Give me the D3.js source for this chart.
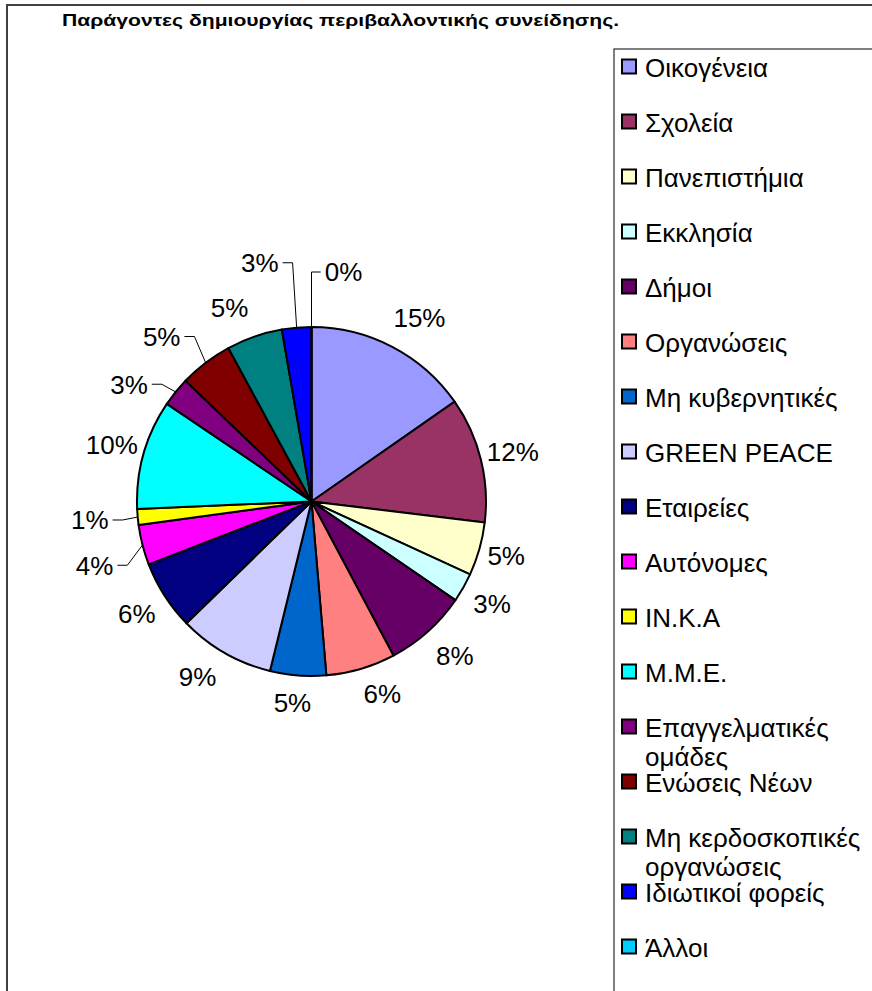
<!DOCTYPE html>
<html><head><meta charset="utf-8">
<script src="https://cdn.jsdelivr.net/npm/d3@7"></script>
<style>html,body{margin:0;padding:0;background:#fff;}svg{display:block;}</style>
</head><body>
<svg id="chart" width="872" height="991"></svg>
<script>
const title = "Παράγοντες δημιουργίας περιβαλλοντικής συνείδησης.";
const categories = ["Οικογένεια","Σχολεία","Πανεπιστήμια","Εκκλησία","Δήμοι","Οργανώσεις","Μη κυβερνητικές","GREEN PEACE","Εταιρείες","Αυτόνομες","ΙΝ.Κ.Α","Μ.Μ.Ε.","Επαγγελματικές ομάδες","Ενώσεις Νέων","Μη κερδοσκοπικές οργανώσεις","Ιδιωτικοί φορείς","Άλλοι"];
const values = [62,47,20,11,31,26,21,36,26,15,6,41,11,20,21,11,0];
const colors = ["#9999FF","#993366","#FFFFCC","#CCFFFF","#660066","#FF8080","#0066CC","#CCCCFF","#000080","#FF00FF","#FFFF00","#00FFFF","#800080","#800000","#008080","#0000FF","#00CCFF"];
// label nudges (layout only); entries with leader:true get a leader line
const labelNudge = {
  0:{d:[12,0]}, 2:{d:[-5,-2]}, 4:{d:[5,-1]}, 5:{d:[12,-7]}, 6:{d:[-3,-6]},
  7:{d:[-11,-5]}, 14:{d:[-14,2]},
  9:{d:[-16,12],leader:true}, 10:{d:[-15,0],leader:true}, 12:{d:[-21,13],leader:true},
  13:{d:[-24,0],leader:true}, 15:{d:[-34,-32],leader:true}, 16:{d:[32,-22],leader:true}
};

const svg = d3.select("#chart");
const W = 872, H = 991;
const font = "'Liberation Sans', Arial, sans-serif";

// outer chart frame
svg.append("rect").attr("x",7).attr("y",5).attr("width",W+20).attr("height",H+20)
  .attr("fill","#fff").attr("stroke","#404040").attr("stroke-width",2);

// title
svg.append("text").attr("x",62).attr("y",26).attr("font-family",font)
  .attr("font-weight","bold").attr("font-size",17).attr("fill","#000")
  .attr("textLength",557).attr("lengthAdjust","spacingAndGlyphs").text(title);

// pie
const cx = 311.5, cy = 501.5, r = 174.5;
const total = d3.sum(values);
const pie = d3.pie().sort(null).value(d=>d).startAngle(0).endAngle(2*Math.PI);
const arcs = pie(values);
const arc = d3.arc().innerRadius(0).outerRadius(r);
const g = svg.append("g").attr("transform",`translate(${cx},${cy})`);
g.selectAll("path.slice").data(arcs).join("path").attr("class","slice")
  .attr("d",arc).attr("fill",(d,i)=>colors[i]).attr("stroke","#000")
  .attr("stroke-width",2).attr("stroke-linejoin","round");

// labels
const labR = r + 33;
const lg = svg.append("g").attr("transform",`translate(${cx},${cy})`);
arcs.forEach((d,i)=>{
  const a = (d.startAngle + d.endAngle)/2;
  let lx = labR*Math.sin(a), ly = -labR*Math.cos(a);
  const nudge = labelNudge[i];
  if (nudge){ lx += nudge.d[0]; ly += nudge.d[1]; }
  const pct = Math.round(d.value/total*100) + "%";
  const t = lg.append("text").attr("x",lx).attr("y",ly).attr("dy","0.36em")
    .attr("text-anchor","middle").attr("font-family",font).attr("font-size",26)
    .attr("fill","#000").text(pct);
  if (nudge && nudge.leader){
    const hw = t.node().getComputedTextLength()/2;
    const px = r*Math.sin(a), py = -r*Math.cos(a);
    let sx, ex;
    if (px > lx){ sx = lx + hw + 4; ex = Math.min(sx + 10, px); }
    else { sx = lx - hw - 4; ex = Math.max(sx - 10, px); }
    lg.insert("polyline","text").attr("points",`${sx},${ly} ${ex},${ly} ${px},${py}`)
      .attr("fill","none").attr("stroke","#000").attr("stroke-width",1);
  }
});

// legend
const legX = 614, legY = 49;
svg.append("rect").attr("x",legX).attr("y",legY).attr("width",W).attr("height",H)
  .attr("fill","#fff").attr("stroke","#000").attr("stroke-width",1);
const yL = d3.scaleLinear().domain([0,1]).range([67,122]);
const legend = svg.append("g");
categories.forEach((c,i)=>{
  const yc = yL(i);
  legend.append("rect").attr("x",622).attr("y",yc-7.5).attr("width",14).attr("height",14)
    .attr("fill",colors[i]).attr("stroke","#000").attr("stroke-width",2);
  const t = legend.append("text").attr("x",645).attr("y",yc+9.5)
    .attr("font-family",font).attr("font-size",26).attr("fill","#000");
  const words = c.split(" ");
  let line = [];
  let ts = t.append("tspan").attr("x",645).attr("dy",0);
  words.forEach(w=>{
    line.push(w);
    ts.text(line.join(" "));
    if (ts.node().getComputedTextLength() > 225 && line.length > 1){
      line.pop(); ts.text(line.join(" "));
      line = [w];
      ts = t.append("tspan").attr("x",645).attr("dy",29).text(w);
    }
  });
});
</script>
</body></html>
